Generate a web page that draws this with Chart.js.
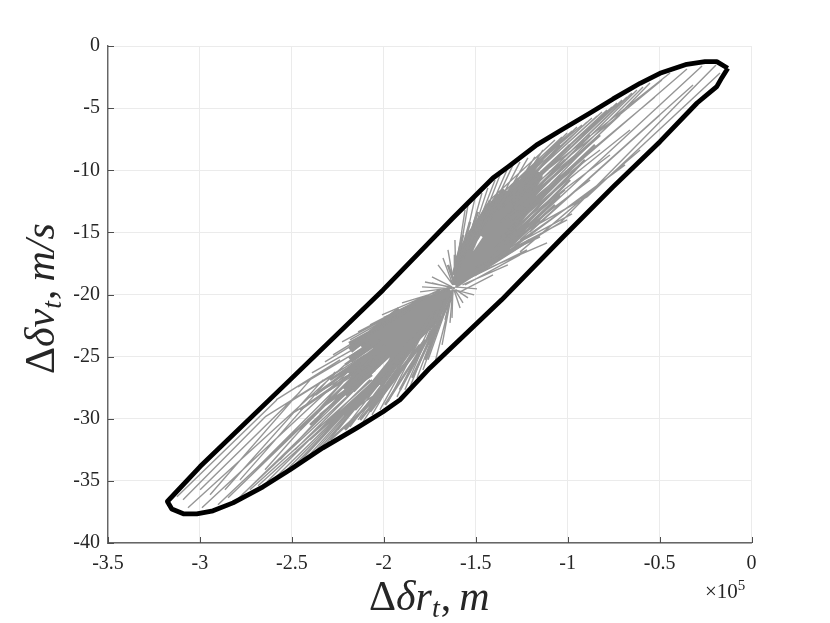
<!DOCTYPE html>
<html>
<head>
<meta charset="utf-8">
<style>
  html, body { margin: 0; padding: 0; background: #fff; }
  #wrap { position: relative; width: 830px; height: 623px; }
</style>
<script src="https://cdn.jsdelivr.net/npm/chart.js@4/dist/chart.umd.min.js"></script>
</head>
<body>
<div id="wrap"><canvas id="reachChart" width="830" height="623"></canvas></div>
<script>
// All x values are in units of 10^5 m, y values in m/s
const xTickValues = [-3.5, -3, -2.5, -2, -1.5, -1, -0.5, 0];
const yTickValues = [0, -5, -10, -15, -20, -25, -30, -35, -40];

// Outer boundary of the set
const boundaryX = [-.129, -.189, -.253, -.352, -.498, -.606, -.753, -.878, -1.025, -1.168, -1.324, -1.406, -1.515, -1.624, -1.749, -2.004, -2.510, -2.999, -3.177,
  -3.153, -3.090, -3.017, -2.929, -2.820, -2.657, -2.510, -2.331, -2.146, -2.004, -1.912, -1.749, -1.359, -1.025, -.753, -.498, -.296, -.189, -.162, -.129];
const boundaryY = [-1.79, -1.26, -1.26, -1.47, -2.20, -3.00, -4.26, -5.39, -6.68, -7.96, -9.73, -10.62, -12.23, -13.84, -15.74, -19.63, -26.87, -33.85, -36.66,
  -37.27, -37.65, -37.65, -37.41, -36.77, -35.48, -34.11, -32.34, -30.73, -29.44, -28.48, -25.91, -20.43, -15.37, -11.34, -7.70, -4.59, -3.27, -2.57, -1.79];

// Thin gray lines, two values per line (start, end)
const upperRayX = [
  -.171,-.895, -.193,-1.042, -.269,-1.205, -.351,-1.259, -.443,-1.341, -.487,-1.313, -.525,-1.259,
  -.318,-1.259, -.498,-1.205, -.606,-1.259, -.688,-1.313, -.824,-1.368, -.878,-1.341, -.770,-1.368, -.661,-1.286, -.824,-1.368, -.933,-1.341, -1.014,-1.395, -.960,-1.313, -1.042,-1.368,
  -.552,-1.232, -.590,-1.232, -.623,-1.259, -.650,-1.259, -.677,-1.286, -.704,-1.286, -.732,-1.313, -.759,-1.313, -.786,-1.341, -.813,-1.341,
  -.840,-1.368, -.868,-1.368, -.895,-1.395, -.922,-1.368, -.949,-1.395, -.976,-1.395, -1.003,-1.422, -1.031,-1.422, -1.069,-1.422,
  -.715,-1.150, -.797,-1.178, -.878,-1.178, -.960,-1.205,
  -1.406,-1.585, -1.259,-1.558, -1.221,-1.531, -1.112,-1.477, -1.042,-1.395, -.976,-1.341, -.895,-1.313, -1.003,-1.368, -1.150,-1.504, -1.325,-1.572,
  -1.558,-1.613, -1.542,-1.602, -1.504,-1.585, -1.466,-1.569, -1.434,-1.553, -1.395,-1.531, -1.368,-1.504, -1.330,-1.477, -1.297,-1.450, -1.259,-1.422, -1.216,-1.395, -1.178,-1.352, -1.134,-1.313, -1.085,-1.286,
  -1.776,-1.613, -1.792,-1.613, -1.738,-1.629, -1.705,-1.624, -1.678,-1.624, -1.651,-1.618, -1.613,-1.607, -1.493,-1.613, -1.509,-1.613, -1.569,-1.613, -1.585,-1.618, -1.629,-1.624, -1.667,-1.629, -1.738,-1.629, -1.542,-1.607
];
const upperRayY = [
  -2.17,-12.15, -1.53,-14.24, -1.61,-14.40, -1.85,-13.44, -2.17,-12.63, -2.74,-12.79, -4.10,-13.19,
  -3.14,-15.61, -5.55,-14.96, -8.37,-16.57, -9.57,-16.41, -11.18,-16.81, -10.78,-16.01, -8.77,-15.45, -6.76,-14.16, -8.37,-14.40, -9.98,-14.96, -11.58,-16.25, -8.77,-13.19, -9.57,-14.16,
  -2.98,-13.19, -3.30,-12.79, -3.54,-12.79, -3.78,-12.39, -4.10,-12.79, -4.34,-12.39, -4.59,-12.79, -4.91,-12.39, -5.15,-12.79, -5.31,-12.39,
  -5.63,-12.79, -5.79,-12.39, -6.11,-13.19, -6.36,-11.99, -6.52,-12.79, -6.84,-12.39, -7.00,-13.19, -7.32,-12.79, -7.56,-12.39,
  -5.55,-11.58, -6.36,-11.99, -7.16,-11.58, -7.56,-11.18,
  -18.42,-19.79, -16.81,-19.23, -16.41,-18.66, -15.85,-18.18, -14.24,-17.38, -13.52,-16.41, -12.15,-15.61, -14.00,-16.81, -15.37,-17.86, -17.62,-19.23,
  -13.19,-18.42, -12.79,-18.02, -12.23,-17.62, -11.83,-17.22, -11.42,-16.81, -10.78,-16.01, -10.38,-15.61, -9.98,-14.96, -9.57,-14.40, -9.33,-14.00, -9.01,-13.60, -8.93,-13.03, -8.37,-12.39, -8.21,-11.99,
  -18.99,-19.47, -19.39,-19.55, -18.58,-19.39, -17.62,-19.23, -17.06,-19.23, -16.41,-19.23, -15.61,-19.23, -19.55,-19.39, -20.03,-19.63, -20.68,-19.63, -21.08,-19.63, -21.88,-19.47, -22.04,-19.63, -19.07,-19.47, -20.27,-19.63
];
const lowerRayX = [
  -3.125,-2.581, -3.092,-2.646, -3.065,-2.211, -2.989,-2.184, -2.902,-2.157, -2.847,-2.129, -2.809,-2.102, -2.771,-2.075, -2.728,-2.064, -2.684,-2.048,
  -2.635,-2.075, -2.592,-2.048, -2.554,-2.021, -2.510,-1.993, -2.472,-1.966, -2.434,-1.939, -2.401,-1.912, -2.363,-1.885, -2.331,-1.857,
  -2.999,-2.456, -2.945,-2.391, -2.864,-2.331, -2.782,-2.265, -2.700,-2.238, -2.646,-2.211, -2.564,-2.184, -2.483,-2.157, -2.401,-2.129, -2.292,-2.075, -2.211,-2.048,
  -2.249,-1.803, -2.211,-1.776, -2.184,-1.830, -2.140,-1.759, -2.113,-1.749, -2.064,-1.738, -2.021,-1.722, -1.977,-1.711, -1.928,-1.694,
  -1.885,-1.678, -1.857,-1.667, -1.819,-1.656, -1.787,-1.645, -1.759,-1.634, -1.722,-1.629, -1.683,-1.629, -1.640,-1.624,
  -2.320,-1.857, -2.276,-1.830, -2.227,-1.803, -2.140,-1.749, -2.184,-1.776, -2.075,-1.722, -2.010,-1.694, -1.901,-1.667, -1.819,-1.640, -1.803,-1.629,
  -2.586,-2.238, -2.646,-2.238, -2.467,-2.129, -2.391,-2.075, -2.537,-2.102, -2.510,-2.075, -2.429,-2.048
];
const lowerRayY = [
  -36.28,-28.48, -36.52,-29.85, -37.17,-25.66, -37.17,-26.07, -36.93,-26.47, -36.36,-26.07, -36.68,-26.47, -36.12,-26.47, -35.72,-26.87, -35.40,-26.87,
  -35.08,-26.87, -34.76,-26.87, -34.51,-26.47, -34.11,-26.07, -33.71,-25.66, -33.39,-25.26, -33.07,-24.86, -32.66,-24.46, -32.34,-23.65,
  -35.72,-27.84, -36.12,-26.71, -35.72,-26.87, -34.92,-26.23, -34.11,-27.27, -34.11,-26.87, -33.31,-27.27, -32.50,-27.67, -31.70,-28.08, -30.49,-28.08, -29.69,-28.08,
  -30.89,-22.85, -30.73,-22.45, -30.65,-23.65, -30.09,-22.04, -30.25,-21.88, -29.69,-21.40, -29.28,-21.24, -28.64,-20.84, -28.24,-20.84,
  -27.67,-20.43, -27.43,-20.43, -26.71,-20.27, -26.07,-20.11, -25.26,-20.03, -25.50,-20.03, -24.05,-19.79, -22.28,-19.63,
  -25.42,-21.24, -24.86,-20.84, -23.81,-20.43, -23.01,-20.03, -23.65,-20.27, -22.45,-19.79, -21.64,-19.63, -20.68,-19.63, -20.51,-19.63, -19.79,-19.47,
  -28.48,-25.26, -29.85,-26.07, -27.43,-24.46, -26.31,-23.65, -28.88,-24.86, -29.69,-25.66, -28.48,-25.26
];

// Heavier lines between the thin rays and the dense middle
const upperMidX = [-.824,-1.313, -.851,-1.313, -.878,-1.341, -.906,-1.341, -.960,-1.368, -.987,-1.395, -1.042,-1.422, -1.069,-1.422, -1.096,-1.368, -1.123,-1.422, -1.150,-1.450, -1.205,-1.477, -1.259,-1.504, -1.069,-1.286, -1.096,-1.313, -1.014,-1.259, -1.042,-1.232, -.987,-1.232,
  -1.531,-1.613, -1.488,-1.596, -1.569,-1.624, -1.422,-1.558, -1.379,-1.531, -1.613,-1.613, -1.651,-1.613];
const upperMidY = [-7.16,-13.60, -7.96,-14.40, -8.37,-15.21, -9.17,-15.61, -9.98,-16.01, -10.78,-16.81, -12.00,-17.38, -12.79,-17.62, -12.39,-16.25, -13.19,-17.22, -14.00,-17.62, -15.61,-18.18, -16.01,-18.42, -9.98,-13.19, -10.78,-14.00, -9.17,-12.79, -7.96,-11.18, -7.96,-11.58,
  -14.16,-18.42, -13.35,-18.02, -15.21,-18.42, -12.39,-16.81, -11.99,-16.41, -16.81,-18.82, -17.62,-19.23];
const lowerMidX = [-2.456,-1.993, -2.401,-1.993, -2.347,-2.021, -2.320,-2.048, -2.265,-2.064, -2.456,-2.102, -2.374,-2.129, -2.292,-2.129, -2.211,-2.021,
  -2.129,-1.803, -2.075,-1.776, -1.993,-1.749, -1.912,-1.722, -1.846,-1.694, -1.776,-1.667, -2.157,-1.912, -2.048,-1.830, -1.749,-1.640, -2.292,-2.021, -2.211,-1.993];
const lowerMidY = [-30.89,-24.05, -30.49,-24.86, -29.69,-25.66, -28.88,-26.07, -28.48,-26.47, -29.28,-25.66, -28.08,-25.42, -26.87,-25.26, -25.66,-23.65,
  -30.09,-24.05, -29.44,-23.65, -28.88,-23.25, -27.67,-22.45, -26.71,-21.88, -25.26,-21.24, -29.28,-25.26, -28.48,-24.05, -24.05,-20.43, -31.70,-28.08, -30.89,-27.27];

// Dense middle of both fans, same start, end layout
const upperCoreX = [-1.613,-1.395, -1.613,-1.341, -1.613,-1.286, -1.613,-1.232, -1.613,-1.178, -1.613,-1.150, -1.613,-1.205, -1.613,-1.259, -1.613,-1.313, -1.613,-1.368, -1.613,-1.450, -1.613,-1.504, -1.613,-1.422, -1.613,-1.368, -1.613,-1.488, -1.613,-1.531,
  -1.531,-1.205, -1.477,-1.178, -1.422,-1.178, -1.504,-1.259, -1.542,-1.341, -1.574,-1.422, -1.531,-1.368, -1.477,-1.286, -1.422,-1.232, -1.368,-1.205, -1.341,-1.178, -1.313,-1.150, -1.422,-1.205, -1.368,-1.178, -1.450,-1.259, -1.558,-1.422, -1.585,-1.477];
const upperCoreY = [-19.23,-14.40, -19.23,-13.60, -19.23,-12.39, -19.23,-11.58, -19.23,-10.62, -19.23,-10.22, -19.23,-11.99, -19.23,-13.60, -19.23,-14.80, -19.23,-16.01, -19.23,-13.60, -19.23,-15.21, -19.23,-16.81, -19.23,-16.81, -19.23,-13.99, -19.23,-15.61,
  -17.62,-11.58, -17.38,-11.99, -16.81,-12.39, -16.81,-11.58, -16.41,-11.58, -16.41,-12.79, -15.21,-11.99, -15.21,-11.58, -15.21,-11.18, -15.61,-11.99, -14.96,-11.58, -14.40,-10.38, -16.01,-10.38, -13.60,-10.14, -14.40,-10.78, -18.02,-16.01, -18.42,-16.41];
const lowerCoreX = [-1.640,-2.184, -1.640,-2.184, -1.640,-2.184, -1.640,-2.173, -1.640,-2.102, -1.640,-2.021, -1.640,-1.939, -1.640,-1.885, -1.640,-1.803, -1.640,-1.722, -1.640,-2.048, -1.640,-1.912, -1.640,-1.966, -1.640,-2.075, -1.640,-1.993,
  -1.912,-2.184, -1.803,-2.129, -1.857,-2.184, -1.776,-2.157, -1.749,-2.102, -1.803,-2.048, -1.857,-2.075, -1.912,-1.993, -1.722,-2.048, -1.694,-1.912, -1.694,-1.885, -1.966,-2.211, -2.021,-2.211, -1.667,-1.776, -1.667,-1.857];
const lowerCoreY = [-19.63,-24.06, -19.63,-25.26, -19.63,-26.47, -19.63,-27.67, -19.63,-28.08, -19.63,-27.27, -19.63,-25.66, -19.63,-24.46, -19.63,-22.85, -19.63,-22.04, -19.63,-23.25, -19.63,-22.45, -19.63,-24.06, -19.63,-25.26, -19.63,-22.04,
  -21.24,-24.46, -20.84,-24.05, -22.45,-26.07, -22.04,-27.27, -21.24,-26.47, -22.85,-27.27, -23.65,-27.67, -24.05,-26.47, -20.84,-24.46, -20.84,-24.46, -21.64,-24.46, -23.25,-28.08, -24.05,-27.67, -20.03,-22.45, -20.43,-22.04];

const mathFont = '"Liberation Serif", "DejaVu Serif", serif';

// Pairs of values become separate line pieces, a null point breaks the line
function toSegments(xs, ys) {
    const points = [];
    for (let i = 0; i < xs.length; i += 2) {
        points.push({ x: xs[i], y: ys[i] }, { x: xs[i + 1], y: ys[i + 1] }, { x: xs[i + 1], y: null });
    }
    return points;
}

function rayDataset(xs, ys, width) {
    return {
        data: toSegments(xs, ys),
        showLine: true,
        borderColor: '#969696',
        borderWidth: width,
        pointRadius: 0,
        tension: 0,
        spanGaps: false
    };
}

// Writes a run of differently styled text pieces along the current x direction
function drawPieces(ctx, pieces) {
    let pos = 0;
    pieces.forEach(p => {
        ctx.font = (p.italic ? 'italic ' : '') + p.size + 'px ' + mathFont;
        ctx.fillText(p.text, pos, p.shift || 0);
        pos += ctx.measureText(p.text).width + (p.gap || 0);
    });
}

const xLabel = [
    { text: 'Δ', size: 42 },
    { text: 'δr', size: 42, italic: true },
    { text: 't', size: 28, italic: true, shift: 7, gap: 1 },
    { text: ',', size: 42, gap: 8 },
    { text: 'm', size: 42, italic: true }
];
const yLabel = [
    { text: 'Δ', size: 42 },
    { text: 'δv', size: 42, italic: true },
    { text: 't', size: 28, italic: true, shift: 7, gap: 1 },
    { text: ',', size: 42, gap: 8 },
    { text: 'm/s', size: 42, italic: true }
];

const axisDecor = {
    id: 'axisDecor',
    afterDraw(chart) {
        const { ctx, chartArea, scales } = chart;
        ctx.save();

        // MATLAB style ticks point into the plot
        ctx.strokeStyle = '#4d4d4d';
        ctx.lineWidth = 1;
        scales.x.ticks.forEach(t => {
            const px = Math.round(scales.x.getPixelForValue(t.value)) + 0.5;
            ctx.beginPath();
            ctx.moveTo(px, chartArea.bottom);
            ctx.lineTo(px, chartArea.bottom - 6);
            ctx.stroke();
        });
        scales.y.ticks.forEach(t => {
            const py = Math.round(scales.y.getPixelForValue(t.value)) + 0.5;
            ctx.beginPath();
            ctx.moveTo(chartArea.left, py);
            ctx.lineTo(chartArea.left + 6, py);
            ctx.stroke();
        });

        ctx.fillStyle = '#262626';
        ctx.textBaseline = 'alphabetic';
        ctx.textAlign = 'left';

        ctx.save();
        ctx.translate(369, 610);
        drawPieces(ctx, xLabel);
        ctx.restore();

        ctx.save();
        ctx.translate(54, 374);
        ctx.rotate(-Math.PI / 2);
        drawPieces(ctx, yLabel);
        ctx.restore();

        ctx.save();
        ctx.translate(705, 598);
        drawPieces(ctx, [
            { text: '×10', size: 21 },
            { text: '5', size: 15, shift: -8 }
        ]);
        ctx.restore();

        ctx.restore();
    }
};

new Chart(document.getElementById('reachChart'), {
    type: 'scatter',
    data: {
        datasets: [
            { data: boundaryX.map((x, i) => ({ x: x, y: boundaryY[i] })), showLine: true, borderColor: '#000', borderWidth: 4.8, pointRadius: 0, tension: 0, borderJoinStyle: 'round' },
            rayDataset(upperRayX, upperRayY, 1.4),
            rayDataset(lowerRayX, lowerRayY, 1.4),
            rayDataset(upperMidX, upperMidY, 2.6),
            rayDataset(lowerMidX, lowerMidY, 2.6),
            rayDataset(upperCoreX, upperCoreY, 7),
            rayDataset(lowerCoreX, lowerCoreY, 7)
        ]
    },
    options: {
        responsive: false,
        animation: false,
        layout: { padding: { top: 46, right: 78.5, left: 0, bottom: 0 } },
        plugins: { legend: { display: false }, tooltip: { enabled: false } },
        scales: {
            x: {
                type: 'linear',
                min: -3.5,
                max: 0,
                afterFit: s => { s.height = 80; },
                afterBuildTicks: s => { s.ticks = xTickValues.map(v => ({ value: v })); },
                grid: { color: '#ebebeb', lineWidth: 1, drawTicks: false },
                border: { color: '#666', width: 1.4 },
                ticks: { padding: 9, color: '#262626', maxRotation: 0, font: { family: mathFont, size: 20 }, callback: v => String(v) }
            },
            y: {
                type: 'linear',
                min: -40,
                max: 0,
                afterFit: s => { s.width = 108; },
                afterBuildTicks: s => { s.ticks = yTickValues.map(v => ({ value: v })); },
                grid: { color: '#ebebeb', lineWidth: 1, drawTicks: false },
                border: { color: '#666', width: 1.4 },
                ticks: { padding: 8, color: '#262626', font: { family: mathFont, size: 20 }, callback: v => String(v) }
            }
        }
    },
    plugins: [axisDecor]
});
</script>
</body>
</html>
